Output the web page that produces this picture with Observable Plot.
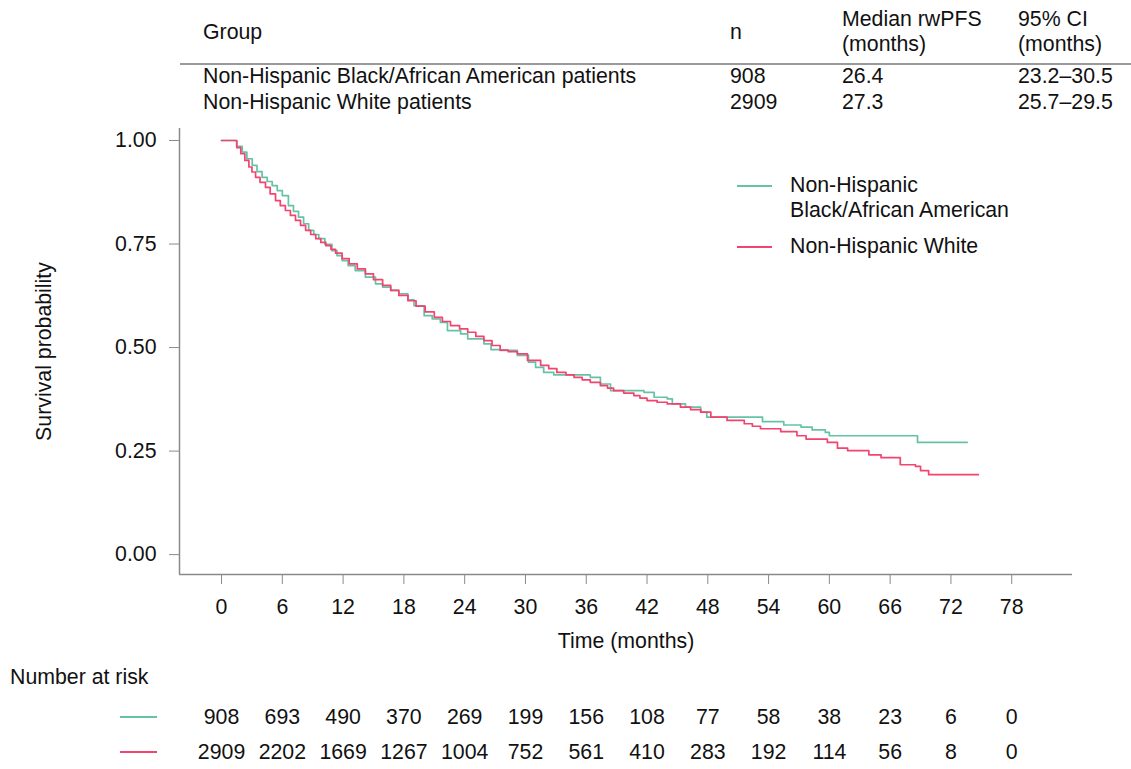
<!DOCTYPE html>
<html><head><meta charset="utf-8">
<script src="https://cdn.jsdelivr.net/npm/d3@7"></script>
<script src="https://cdn.jsdelivr.net/npm/@observablehq/plot@0.6"></script>
<style>
body{margin:0;background:#fff;font-family:"Liberation Sans",Arial,Helvetica,sans-serif;}
#wrap{position:relative;width:1131px;height:769px;overflow:hidden;background:#fff;}
.abs{position:absolute;white-space:nowrap;font-size:21.3px;line-height:1;color:#111;}
.seg{position:absolute;height:2px;}
#main{position:absolute;left:0;top:120px;}
#risk{position:absolute;left:0;top:685px;}
</style></head><body><div id="wrap"><div id="main"></div><div id="risk"></div></div>
<script>
// ---------- data ----------
const groups = ["Non-Hispanic Black/African American", "Non-Hispanic White"];
const groupColors = ["#66C2A5", "#F3436F"];
const tableGroups = ["Non-Hispanic Black/African American patients", "Non-Hispanic White patients"];
const tableN = ["908", "2909"];
const tableMedian = ["26.4", "27.3"];
const tableCI = ["23.2\u201330.5", "25.7\u201329.5"];

const xTicks = [0, 6, 12, 18, 24, 30, 36, 42, 48, 54, 60, 66, 72, 78];
const yTicks = [0, 0.25, 0.5, 0.75, 1];

const riskBlack = [908, 693, 490, 370, 269, 199, 156, 108, 77, 58, 38, 23, 6, 0];
const riskWhite = [2909, 2202, 1669, 1267, 1004, 752, 561, 410, 283, 192, 114, 56, 8, 0];

const blackTime = [0, 1.0, 1.5, 2.04, 2.5, 3.03, 3.5, 4.0, 4.5, 5.0, 5.5, 6.0, 6.6, 7.1, 7.6, 8.1, 8.6, 9.1, 9.6, 10.2, 10.9, 11.4, 11.9, 12.5, 13.2, 14.2, 15.2, 15.9, 16.7, 17.5, 18.4, 19.0, 20.0, 20.8, 21.6, 22.3, 23.6, 24.3, 25.9, 26.6, 27.5, 29.2, 30.3, 31.0, 31.8, 32.8, 34.5, 36.4, 37.4, 38.4, 39.4, 41.7, 42.7, 44.0, 44.5, 45.8, 47.3, 47.9, 51.6, 53.4, 55.5, 57.2, 58.3, 59.6, 60.0, 68.5, 68.7, 73.6];
const blackSurv = [1.0, 1.0, 0.986, 0.972, 0.956, 0.940, 0.925, 0.911, 0.901, 0.891, 0.879, 0.867, 0.843, 0.829, 0.815, 0.799, 0.783, 0.773, 0.763, 0.749, 0.734, 0.722, 0.710, 0.698, 0.686, 0.670, 0.654, 0.646, 0.638, 0.630, 0.615, 0.601, 0.577, 0.569, 0.561, 0.541, 0.533, 0.521, 0.509, 0.495, 0.493, 0.481, 0.465, 0.452, 0.440, 0.434, 0.434, 0.428, 0.412, 0.396, 0.396, 0.392, 0.380, 0.376, 0.364, 0.356, 0.344, 0.332, 0.332, 0.321, 0.313, 0.308, 0.301, 0.295, 0.287, 0.287, 0.271, 0.271];

const whiteTime = [0, 1.0, 1.5, 1.9, 2.3, 2.7, 3.0, 3.36, 3.8, 4.34, 4.8, 5.33, 5.8, 6.3, 6.8, 7.3, 7.8, 8.3, 8.8, 9.3, 9.8, 10.3, 10.8, 11.26, 11.9, 12.6, 13.4, 14.2, 15.0, 15.9, 16.7, 17.5, 18.4, 19.2, 20.1, 21.0, 21.8, 22.6, 23.5, 24.3, 25.1, 25.9, 26.7, 27.5, 28.3, 29.2, 30.2, 31.5, 32.3, 33.1, 34.0, 34.8, 35.6, 36.4, 37.4, 38.1, 38.7, 39.7, 40.7, 41.3, 42.0, 43.0, 44.0, 45.3, 46.3, 47.3, 48.3, 49.9, 51.6, 52.4, 53.2, 55.2, 56.8, 57.7, 59.8, 60.8, 61.8, 63.9, 65.1, 67.0, 68.5, 69.0, 69.8, 74.7];
const whiteSurv = [1.0, 1.0, 0.983, 0.968, 0.952, 0.936, 0.924, 0.911, 0.899, 0.887, 0.871, 0.855, 0.843, 0.831, 0.819, 0.807, 0.795, 0.783, 0.773, 0.763, 0.754, 0.746, 0.737, 0.728, 0.715, 0.702, 0.690, 0.678, 0.664, 0.650, 0.638, 0.626, 0.613, 0.600, 0.586, 0.573, 0.563, 0.553, 0.545, 0.537, 0.527, 0.517, 0.505, 0.494, 0.490, 0.485, 0.469, 0.457, 0.449, 0.440, 0.434, 0.428, 0.422, 0.416, 0.408, 0.402, 0.396, 0.390, 0.384, 0.378, 0.372, 0.368, 0.364, 0.356, 0.350, 0.344, 0.332, 0.324, 0.316, 0.310, 0.304, 0.297, 0.287, 0.279, 0.271, 0.257, 0.251, 0.241, 0.234, 0.217, 0.213, 0.203, 0.193, 0.193];

// ---------- build ----------
const FONT = '"Liberation Sans", Arial, Helvetica, sans-serif';
const wrap = document.getElementById("wrap");
function place(text, x, yc, opts = {}) {
  const d = document.createElement("div");
  d.className = "abs";
  d.textContent = text;
  d.style.left = x + "px";
  d.style.top = yc + "px";
  d.style.transform = opts.anchor === "end" ? "translate(-100%,-50%)" : "translate(0,-50%)";
  wrap.appendChild(d);
  return d;
}
function seg(x1, x2, y, color) {
  const d = document.createElement("div");
  d.className = "seg";
  d.style.left = x1 + "px";
  d.style.width = (x2 - x1) + "px";
  d.style.top = (y - 1) + "px";
  d.style.background = color;
  wrap.appendChild(d);
}

// top table
place("Group", 203, 33);
place("n", 730, 33);
place("Median rwPFS", 842, 20);
place("(months)", 842, 45);
place("95% CI", 1018, 20);
place("(months)", 1018, 45);
const sep = document.createElement("div");
sep.style.cssText = "position:absolute;left:180px;width:951px;top:63px;height:2px;background:#9a9a9a;";
wrap.appendChild(sep);
tableGroups.forEach((g, i) => {
  const y = 77 + i * 26;
  place(g, 203, y);
  place(tableN[i], 730, y);
  place(tableMedian[i], 842, y);
  place(tableCI[i], 1018, y);
});

const km = [];
blackTime.forEach((t, i) => km.push({t, s: blackSurv[i], g: groups[0]}));
whiteTime.forEach((t, i) => km.push({t, s: whiteSurv[i], g: groups[1]}));

const xDomain = [-4.15, 84];
const yDomain = [-0.048, 1.029];
const axisColor = "#8a8a8a";

const main = Plot.plot({
  width: 1131, height: 540,
  marginLeft: 179, marginRight: 59, marginTop: 8, marginBottom: 86,
  style: {fontFamily: FONT, fontSize: "21.3px", color: "#111", background: "transparent", overflow: "visible"},
  x: {domain: xDomain},
  y: {domain: yDomain},
  color: {domain: groups, range: groupColors},
  marks: [
    Plot.ruleY([yDomain[0]], {stroke: axisColor, strokeWidth: 1.5}),
    Plot.ruleX([xDomain[0]], {stroke: axisColor, strokeWidth: 1.5}),
    Plot.axisX(xTicks, {tickSize: 10, tickPadding: 14, stroke: axisColor, fill: "#111",
      label: "Time (months)", labelAnchor: "center", labelOffset: 73, labelArrow: "none"}),
    Plot.axisY(yTicks, {tickSize: 10, tickPadding: 13, stroke: axisColor, fill: "#111", tickFormat: d => d.toFixed(2),
      label: "Survival probability", labelAnchor: "center", labelOffset: 144, labelArrow: "none"}),
    Plot.line(km, {x: "t", y: "s", z: "g", stroke: "g", curve: "step-after", strokeWidth: 1.7})
  ]
});
document.getElementById("main").appendChild(main);

// legend inside plot
seg(737, 772, 186, groupColors[0]);
place("Non-Hispanic", 790, 186);
place("Black/African American", 790, 211);
seg(737, 772, 247, groupColors[1]);
place("Non-Hispanic White", 790, 247);

// risk table
place("Number at risk", 10, 678);
seg(120, 157, 717, groupColors[0]);
seg(120, 157, 752, groupColors[1]);
const risk = [];
xTicks.forEach((t, i) => {
  risk.push({t, g: groups[0], n: riskBlack[i]});
  risk.push({t, g: groups[1], n: riskWhite[i]});
});
const riskPlot = Plot.plot({
  width: 1131, height: 84,
  marginLeft: 179, marginRight: 59, marginTop: 0, marginBottom: 0,
  style: {fontFamily: FONT, fontSize: "21.3px", color: "#111", background: "transparent", overflow: "visible"},
  x: {domain: xDomain, axis: null},
  y: {type: "point", domain: groups, range: [32, 67], padding: 0, axis: null},
  marks: [
    Plot.text(risk, {x: "t", y: "g", text: d => String(d.n), fill: "#111", fontSize: 21.3})
  ]
});
document.getElementById("risk").appendChild(riskPlot);
</script>
</body></html>
